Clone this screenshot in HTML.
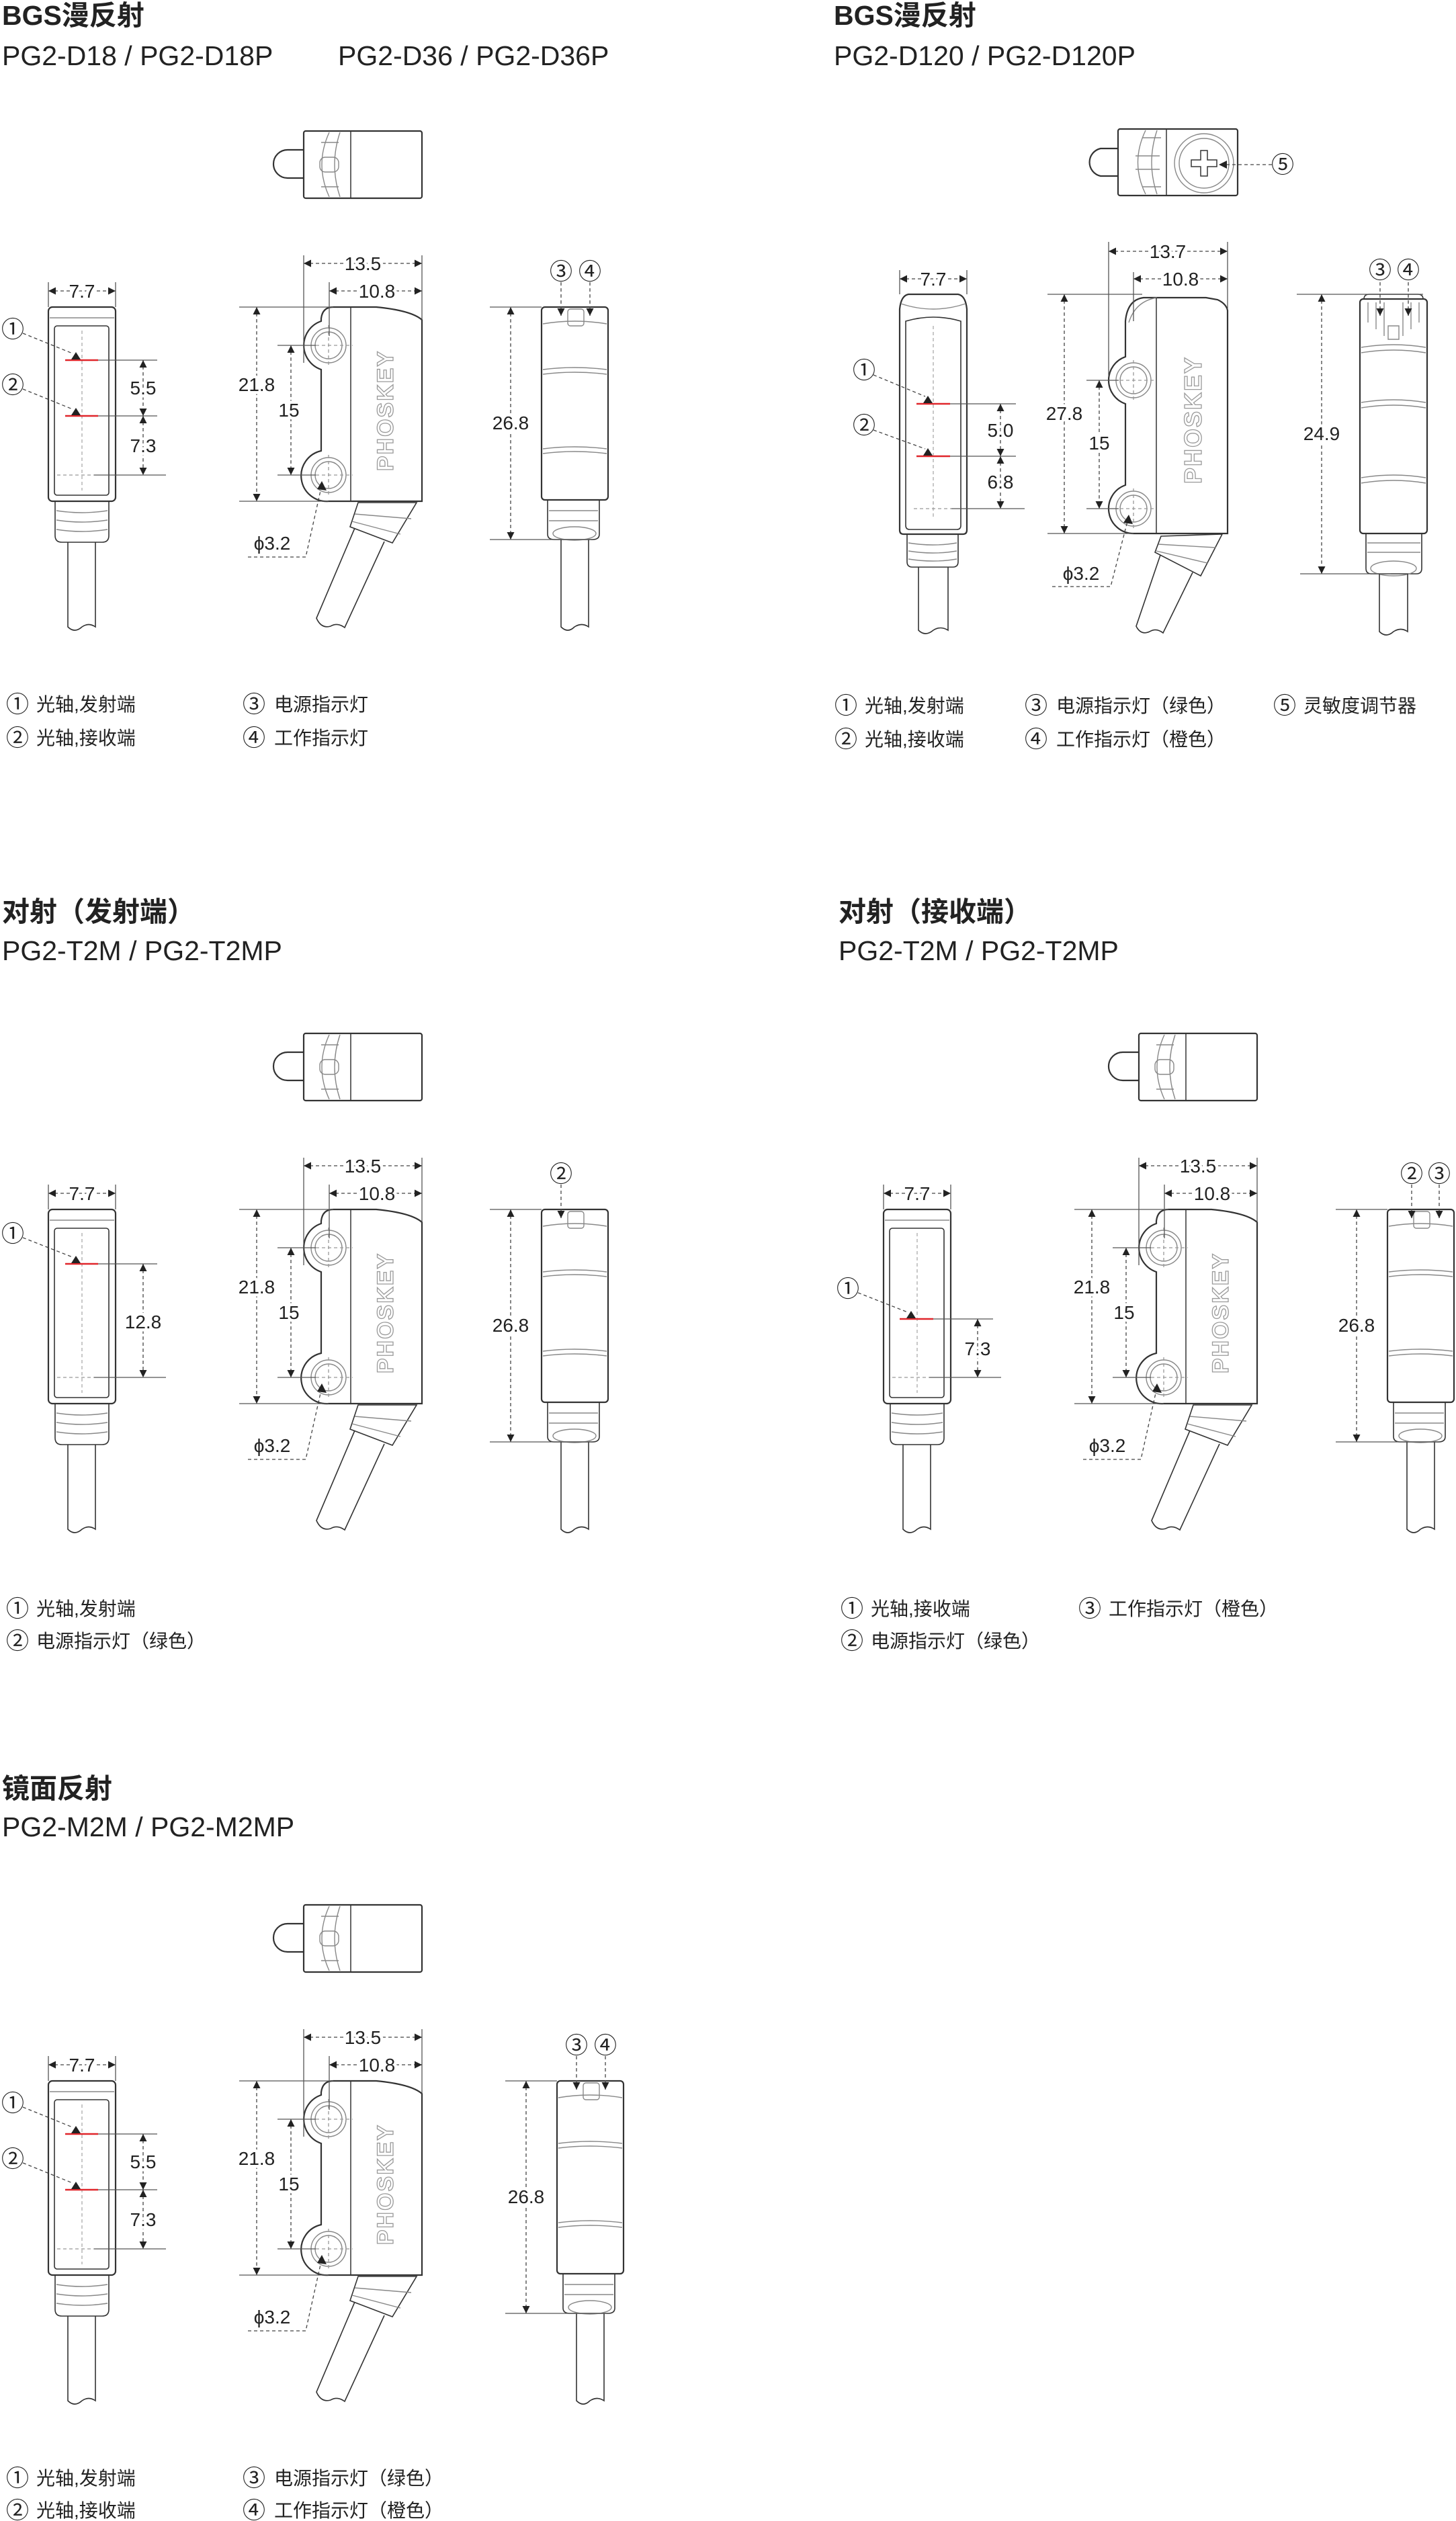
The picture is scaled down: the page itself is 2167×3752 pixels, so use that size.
<!DOCTYPE html>
<html><head><meta charset="utf-8">
<style>
html,body{margin:0;padding:0;background:#fff;}
svg{display:block;}
text{font-family:"Liberation Sans","Noto Sans CJK SC",sans-serif;fill:#222;}
.t{font-size:41px;font-weight:bold;}
.m{font-size:41px;}
.n{font-size:28px;text-anchor:middle;stroke:#fff;stroke-width:9px;paint-order:stroke;stroke-linejoin:round;}
.lg{font-size:28px;}
.c{font-size:34px;text-anchor:middle;font-family:"Noto Sans CJK SC",sans-serif;}
.b{fill:none;stroke:#333;stroke-width:2.2;}
.g{fill:none;stroke:#888;stroke-width:1.4;}
.d{fill:none;stroke:#444;stroke-width:1.3;stroke-dasharray:5 4;}
.e{fill:none;stroke:#555;stroke-width:1.3;}
.r{stroke:#e0262b;stroke-width:2.5;}
.pk{font-size:34px;font-weight:bold;fill:#fff;stroke:#9a9a9a;stroke-width:1.3;text-anchor:middle;letter-spacing:2px;}
</style></head>
<body>
<svg width="2167" height="3752" viewBox="0 0 2167 3752" xmlns="http://www.w3.org/2000/svg">
<defs>
<marker id="a" viewBox="0 0 10 10" refX="10" refY="5" markerWidth="13" markerHeight="11" markerUnits="userSpaceOnUse" orient="auto-start-reverse"><path d="M0,0 L10,5 L0,10 z" fill="#222"/></marker>

<g id="lcore">
 <path class="b" d="M452,223 H428 A21,21 0 0 0 428,265 H452"/>
 <rect class="b" x="452" y="195" width="176" height="100" rx="3"/>
 <line class="b" x1="522" y1="195" x2="522" y2="295" style="stroke-width:1.5"/>
 <path class="g" d="M490,197 Q468,245 490,293"/>
 <path class="g" d="M506,197 Q490,245 506,293"/>
 <rect class="g" x="476" y="234" width="28" height="22" rx="8"/>
 <path class="g" d="M478,212 H504 M478,278 H504"/>
 <rect class="b" x="72" y="457" width="100" height="289" rx="6"/>
 <path class="g" d="M74,473 H170"/>
 <rect class="b" x="81" y="485" width="81" height="252" rx="4" style="stroke-width:1.6"/>
 <line class="d" x1="122" y1="492" x2="122" y2="730" style="stroke:#aaa"/>
 <path class="b" d="M82,746 V797 Q82,807 92,807 H152 Q162,807 162,797 V746" style="stroke-width:1.6"/>
 <path class="g" d="M84,760 Q122,766 160,760 M84,774 Q122,780 160,774 M84,788 Q122,794 160,788"/>
 <path class="b" d="M101,807 V933 Q111,943 122,933 Q132,926 142,933 V807" style="stroke-width:1.6"/>
 <path class="b" d="M478,474 Q480,457 496,457 H560 Q612,462 628,476 V746 H489 A38,38 0 0 1 478,671 V550 A38,38 0 0 1 478,478 Z"/>
 <circle class="g" cx="489" cy="514" r="26"/><circle class="g" cx="489" cy="514" r="20"/>
 <circle class="g" cx="489" cy="707" r="26"/><circle class="g" cx="489" cy="707" r="20"/>
 <path class="d" d="M489,484 V545 M489,677 V738 M470,707 H525 M470,514 H525" style="stroke:#999"/>
 <line class="b" x1="522" y1="457" x2="522" y2="746" style="stroke-width:1.5"/>
 <text class="pk" transform="translate(585,611) rotate(-90)">PHOSKEY</text>
 <path class="b" d="M533,748 L620,748 L584,808 L521,784 Z" style="stroke-width:1.6"/>
 <path class="g" d="M528,765 L612,772 M524,776 L596,795"/>
 <path class="b" d="M528,786 L471,920 Q478,936 492,932 Q502,926 513,934 L572,806" style="stroke-width:1.6"/>
 <line class="d" x1="72" y1="433" x2="172" y2="433" marker-start="url(#a)" marker-end="url(#a)"/>
 <path class="e" d="M72,420 V457 M172,420 V457"/>
 <line class="d" x1="452" y1="392" x2="628" y2="392" marker-start="url(#a)" marker-end="url(#a)"/>
 <path class="e" d="M452,380 V540 M628,380 V476 M490,420 V500"/>
 <line class="d" x1="490" y1="433" x2="628" y2="433" marker-start="url(#a)" marker-end="url(#a)"/>
 <line class="d" x1="382" y1="457" x2="382" y2="746" marker-start="url(#a)" marker-end="url(#a)"/>
 <path class="e" d="M356,457 H496 M356,746 H489"/>
 <line class="d" x1="433" y1="514" x2="433" y2="707" marker-start="url(#a)" marker-end="url(#a)"/>
 <path class="e" d="M413,514 H470 M413,707 H470"/>
 <path class="d" d="M369,829 H455 L478,726"/>
 <path d="M479,716 L486,730 L472,728 Z" fill="#222"/>
 <path class="d" d="M85,707 H140" style="stroke:#999"/>
 <path class="e" d="M140,707 H247"/>
</g>

<g id="rview">
 <rect class="b" x="806" y="457" width="99" height="287" rx="5"/>
 <path class="g" d="M808,482 Q855,474 903,482"/>
 <rect class="g" x="845" y="460" width="24" height="25" rx="4"/>
 <path class="g" d="M808,550 Q855,544 903,550 M808,557 Q855,551 903,557 M808,668 Q855,662 903,668 M808,675 Q855,669 903,675"/>
 <path class="b" d="M815,744 V795 Q815,803 825,803 H882 Q892,803 892,795 V744" style="stroke-width:1.6"/>
 <path class="g" d="M817,760 H890 M817,775 H890"/>
 <ellipse class="g" cx="855" cy="794" rx="32" ry="10"/>
 <path class="b" d="M835,803 V933 Q845,943 855,933 Q866,926 876,933 V803" style="stroke-width:1.6"/>
 <line class="d" x1="760" y1="457" x2="760" y2="803" marker-start="url(#a)" marker-end="url(#a)"/>
 <path class="e" d="M729,457 H806 M729,803 H880"/>
</g>
</defs>

<text class="t" x="3" y="37">BGS漫反射</text>
<text class="m" x="3" y="97">PG2-D18 / PG2-D18P</text>
<text class="m" x="503" y="97">PG2-D36 / PG2-D36P</text>
<use href="#lcore"/>
<use href="#rview"/>
<text class="n" x="122" y="443">7.7</text>
<text class="n" x="540" y="402">13.5</text>
<text class="n" x="561" y="443">10.8</text>
<text class="n" x="382" y="582">21.8</text>
<text class="n" x="430" y="620">15</text>
<text class="n" x="760" y="639">26.8</text>
<text x="405" y="818" style="font-size:28px;text-anchor:middle">ϕ3.2</text>
<line class="r" x1="97" y1="536" x2="146" y2="536"/><line class="r" x1="97" y1="619" x2="146" y2="619"/>
<path class="e" d="M146,536 H234 M146,619 H234"/>
<line class="d" x1="213" y1="536" x2="213" y2="619" marker-start="url(#a)" marker-end="url(#a)"/>
<line class="d" x1="213" y1="619" x2="213" y2="707" marker-start="url(#a)" marker-end="url(#a)"/>
<text class="n" x="213" y="587">5.5</text><text class="n" x="213" y="673">7.3</text>
<text class="c" x="19" y="502">①</text><text class="c" x="19" y="585">②</text>
<path class="d" d="M34,496 L108,526 M34,579 L108,609"/>
<path d="M113,524 L120,535 L106,535 Z M113,607 L120,618 L106,618 Z" fill="#222"/>
<text class="c" x="835" y="416">③</text><text class="c" x="878" y="416">④</text>
<line class="d" x1="835" y1="420" x2="835" y2="470" marker-end="url(#a)"/>
<line class="d" x1="878" y1="420" x2="878" y2="470" marker-end="url(#a)"/>
<text class="c" x="26" y="1060">①</text><text class="lg" x="54" y="1058">光轴,发射端</text>
<text class="c" x="26" y="1110">②</text><text class="lg" x="54" y="1108">光轴,接收端</text>
<text class="c" x="378" y="1060">③</text><text class="lg" x="408" y="1058">电源指示灯</text>
<text class="c" x="378" y="1110">④</text><text class="lg" x="408" y="1108">工作指示灯</text>

<text class="t" x="1241" y="37">BGS漫反射</text>
<text class="m" x="1241" y="97">PG2-D120 / PG2-D120P</text>
<path class="b" d="M1664,221 H1638 A21,21 0 0 0 1638,262 H1664"/>
<rect class="b" x="1664" y="192" width="178" height="99" rx="3"/>
<line class="b" x1="1736" y1="192" x2="1736" y2="291" style="stroke-width:1.5"/>
<path class="g" d="M1705,194 Q1682,242 1705,289 M1722,194 Q1706,242 1722,289"/>
<path class="g" d="M1690,232 H1726 M1690,252 H1726 M1700,205 H1728 M1700,278 H1728"/>
<circle class="g" cx="1792" cy="243" r="44"/><circle class="g" cx="1792" cy="243" r="37"/>
<path class="b" d="M1787,224 H1797 V238 H1811 V248 H1797 V262 H1787 V248 H1773 V238 H1787 Z" style="stroke-width:1.5"/>
<path class="d" d="M1816,245 H1893"/><path d="M1814,245 L1826,239 L1826,251 Z" fill="#222"/>
<text class="c" x="1909" y="257">⑤</text>
<path class="b" d="M1339,460 Q1341,440 1352,438 H1426 Q1437,440 1439,460 V789 Q1439,795 1433,795 H1345 Q1339,795 1339,789 Z"/>
<path class="g" d="M1341,452 Q1389,468 1437,452"/>
<path class="b" d="M1348,478 Q1389,466 1430,478 V782 Q1430,788 1424,788 H1354 Q1348,788 1348,782 Z" style="stroke-width:1.6"/>
<line class="d" x1="1389" y1="485" x2="1389" y2="770" style="stroke:#aaa"/>
<path class="b" d="M1350,795 V836 Q1350,844 1358,844 H1418 Q1426,844 1426,836 V795" style="stroke-width:1.6"/>
<path class="g" d="M1352,808 Q1389,814 1424,808 M1352,820 Q1389,826 1424,820 M1352,832 Q1389,838 1424,832"/>
<path class="b" d="M1367,844 V938 Q1377,948 1389,938 Q1400,931 1411,938 V844" style="stroke-width:1.6"/>
<line class="r" x1="1364" y1="601" x2="1414" y2="601"/><line class="r" x1="1364" y1="679" x2="1414" y2="679"/>
<path class="e" d="M1414,601 H1512 M1414,679 H1512 M1416,757 H1525"/>
<path class="d" d="M1360,757 H1416" style="stroke:#999"/>
<line class="d" x1="1489" y1="601" x2="1489" y2="679" marker-start="url(#a)" marker-end="url(#a)"/>
<line class="d" x1="1489" y1="679" x2="1489" y2="757" marker-start="url(#a)" marker-end="url(#a)"/>
<text class="n" x="1489" y="650">5.0</text><text class="n" x="1489" y="727">6.8</text>
<text class="c" x="1286" y="563">①</text><text class="c" x="1286" y="645">②</text>
<path class="d" d="M1300,558 L1377,590 M1300,640 L1377,668"/>
<path d="M1381,589 L1388,600 L1374,600 Z M1381,667 L1388,678 L1374,678 Z" fill="#222"/>
<line class="d" x1="1339" y1="415" x2="1439" y2="415" marker-start="url(#a)" marker-end="url(#a)"/>
<path class="e" d="M1339,402 V438 M1439,402 V438"/>
<text class="n" x="1389" y="425">7.7</text>
<path class="b" d="M1675,478 Q1678,446 1702,443 H1795 L1812,446 Q1825,452 1827,462 V794 H1687 A37,37 0 0 1 1675,722 V601 A37,37 0 0 1 1675,531 Z"/>
<path class="g" d="M1680,480 Q1690,448 1722,443"/>
<circle class="g" cx="1687" cy="566" r="26"/><circle class="g" cx="1687" cy="566" r="20"/>
<circle class="g" cx="1687" cy="757" r="26"/><circle class="g" cx="1687" cy="757" r="20"/>
<path class="d" d="M1687,536 V598 M1687,727 V788 M1667,566 H1718 M1667,757 H1718" style="stroke:#999"/>
<line class="b" x1="1721" y1="443" x2="1721" y2="794" style="stroke-width:1.5"/>
<text class="pk" style="font-size:36px" transform="translate(1788,625) rotate(-90)">PHOSKEY</text>
<path class="b" d="M1728,798 L1819,795 L1787,857 L1719,822 Z" style="stroke-width:1.6"/>
<path class="g" d="M1724,810 L1810,815 M1721,820 L1797,838"/>
<path class="b" d="M1727,826 L1691,932 Q1698,946 1711,940 Q1721,934 1731,942 L1775,852" style="stroke-width:1.6"/>
<line class="d" x1="1650" y1="374" x2="1827" y2="374" marker-start="url(#a)" marker-end="url(#a)"/>
<line class="d" x1="1687" y1="415" x2="1827" y2="415" marker-start="url(#a)" marker-end="url(#a)"/>
<path class="e" d="M1650,360 V560 M1827,360 V460 M1687,405 V478"/>
<text class="n" x="1738" y="384">13.7</text><text class="n" x="1757" y="425">10.8</text>
<line class="d" x1="1584" y1="438" x2="1584" y2="794" marker-start="url(#a)" marker-end="url(#a)"/>
<path class="e" d="M1559,438 H1700 M1559,794 H1687"/>
<line class="d" x1="1636" y1="566" x2="1636" y2="757" marker-start="url(#a)" marker-end="url(#a)"/>
<path class="e" d="M1617,566 H1665 M1617,757 H1665"/>
<text class="n" x="1584" y="625">27.8</text><text class="n" x="1636" y="669">15</text>
<text x="1609" y="863" style="font-size:28px;text-anchor:middle">ϕ3.2</text>
<path class="d" d="M1566,873 H1653 L1678,776"/>
<path d="M1680,766 L1686,780 L1672,778 Z" fill="#222"/>
<rect class="b" x="2024" y="445" width="100" height="349" rx="5"/>
<path class="b" d="M2030,445 Q2030,438 2038,438 H2110 Q2118,438 2118,445" style="stroke-width:1.5"/>
<path class="g" d="M2036,450 V480 M2048,450 V490 M2060,450 V500 M2088,450 V500 M2100,450 V490 M2112,450 V480 M2066,485 H2082 V505 H2066 Z"/>
<path class="g" d="M2026,517 Q2074,509 2122,517 M2026,525 Q2074,517 2122,525 M2026,599 Q2074,591 2122,599 M2026,607 Q2074,599 2122,607 M2026,711 Q2074,703 2122,711 M2026,719 Q2074,711 2122,719"/>
<path class="b" d="M2033,794 V846 Q2033,854 2041,854 H2108 Q2116,854 2116,846 V794" style="stroke-width:1.6"/>
<path class="g" d="M2035,808 H2114 M2035,822 H2114"/>
<ellipse class="g" cx="2074" cy="846" rx="34" ry="11"/>
<path class="b" d="M2053,854 V940 Q2063,950 2074,940 Q2085,933 2095,940 V854" style="stroke-width:1.6"/>
<line class="d" x1="1967" y1="438" x2="1967" y2="854" marker-start="url(#a)" marker-end="url(#a)"/>
<path class="e" d="M1930,438 H2118 M1935,854 H2070"/>
<text class="n" x="1967" y="655">24.9</text>
<text class="c" x="2054" y="414">③</text><text class="c" x="2096" y="414">④</text>
<line class="d" x1="2054" y1="420" x2="2054" y2="470" marker-end="url(#a)"/>
<line class="d" x1="2096" y1="420" x2="2096" y2="470" marker-end="url(#a)"/>
<text class="c" x="1259" y="1062">①</text><text class="lg" x="1287" y="1060">光轴,发射端</text>
<text class="c" x="1259" y="1112">②</text><text class="lg" x="1287" y="1110">光轴,接收端</text>
<text class="c" x="1542" y="1062">③</text><text class="lg" x="1572" y="1060">电源指示灯（绿色）</text>
<text class="c" x="1542" y="1112">④</text><text class="lg" x="1572" y="1110">工作指示灯（橙色）</text>
<text class="c" x="1912" y="1062">⑤</text><text class="lg" x="1940" y="1060">灵敏度调节器</text>

<text class="t" x="3" y="1371">对射（发射端）</text>
<text class="m" x="3" y="1429">PG2-T2M / PG2-T2MP</text>
<g transform="translate(0,1343)">
 <use href="#lcore"/>
 <use href="#rview"/>
 <text class="n" x="122" y="443">7.7</text>
 <text class="n" x="540" y="402">13.5</text>
 <text class="n" x="561" y="443">10.8</text>
 <text class="n" x="382" y="582">21.8</text>
 <text class="n" x="430" y="620">15</text>
 <text class="n" x="760" y="639">26.8</text>
 <text x="405" y="818" style="font-size:28px;text-anchor:middle">ϕ3.2</text>
 <line class="r" x1="97" y1="538" x2="146" y2="538"/>
 <path class="e" d="M146,538 H234"/>
 <line class="d" x1="213" y1="538" x2="213" y2="707" marker-start="url(#a)" marker-end="url(#a)"/>
 <text class="n" x="213" y="634">12.8</text>
 <text class="c" x="19" y="505">①</text>
 <path class="d" d="M34,499 L108,528"/>
 <path d="M113,526 L120,537 L106,537 Z" fill="#222"/>
 <text class="c" x="835" y="416">②</text>
 <line class="d" x1="835" y1="420" x2="835" y2="470" marker-end="url(#a)"/>
</g>
<text class="c" x="26" y="2406">①</text><text class="lg" x="54" y="2404">光轴,发射端</text>
<text class="c" x="26" y="2454">②</text><text class="lg" x="54" y="2452">电源指示灯（绿色）</text>

<text class="t" x="1248" y="1371">对射（接收端）</text>
<text class="m" x="1248" y="1429">PG2-T2M / PG2-T2MP</text>
<g transform="translate(1243,1343)">
 <use href="#lcore"/>
 <text class="n" x="122" y="443">7.7</text>
 <text class="n" x="540" y="402">13.5</text>
 <text class="n" x="561" y="443">10.8</text>
 <text class="n" x="382" y="582">21.8</text>
 <text class="n" x="430" y="620">15</text>
 <text x="405" y="818" style="font-size:28px;text-anchor:middle">ϕ3.2</text>
 <line class="r" x1="96" y1="620" x2="146" y2="620"/>
 <path class="e" d="M146,620 H235"/>
 <line class="d" x1="212" y1="620" x2="212" y2="707" marker-start="url(#a)" marker-end="url(#a)"/>
 <text class="n" x="212" y="674">7.3</text>
 <text class="c" x="19" y="587">①</text>
 <path class="d" d="M34,581 L108,610"/>
 <path d="M113,608 L120,619 L106,619 Z" fill="#222"/>
</g>
<g transform="translate(1259,1343)">
 <use href="#rview"/>
 <text class="n" x="760" y="639">26.8</text>
 <text class="c" x="842" y="416">②</text><text class="c" x="883" y="416">③</text>
 <line class="d" x1="842" y1="420" x2="842" y2="470" marker-end="url(#a)"/>
 <line class="d" x1="883" y1="420" x2="883" y2="470" marker-end="url(#a)"/>
</g>
<text class="c" x="1268" y="2406">①</text><text class="lg" x="1296" y="2404">光轴,接收端</text>
<text class="c" x="1268" y="2454">②</text><text class="lg" x="1296" y="2452">电源指示灯（绿色）</text>
<text class="c" x="1622" y="2406">③</text><text class="lg" x="1650" y="2404">工作指示灯（橙色）</text>

<text class="t" x="3" y="2676">镜面反射</text>
<text class="m" x="3" y="2733">PG2-M2M / PG2-M2MP</text>
<g transform="translate(0,2640)">
 <use href="#lcore"/>
 <text class="n" x="122" y="443">7.7</text>
 <text class="n" x="540" y="402">13.5</text>
 <text class="n" x="561" y="443">10.8</text>
 <text class="n" x="382" y="582">21.8</text>
 <text class="n" x="430" y="620">15</text>
 <text x="405" y="818" style="font-size:28px;text-anchor:middle">ϕ3.2</text>
 <line class="r" x1="97" y1="536" x2="146" y2="536"/><line class="r" x1="97" y1="619" x2="146" y2="619"/>
 <path class="e" d="M146,536 H234 M146,619 H234"/>
 <line class="d" x1="213" y1="536" x2="213" y2="619" marker-start="url(#a)" marker-end="url(#a)"/>
 <line class="d" x1="213" y1="619" x2="213" y2="707" marker-start="url(#a)" marker-end="url(#a)"/>
 <text class="n" x="213" y="587">5.5</text><text class="n" x="213" y="673">7.3</text>
 <text class="c" x="19" y="502">①</text><text class="c" x="19" y="585">②</text>
 <path class="d" d="M34,496 L108,526 M34,579 L108,609"/>
 <path d="M113,524 L120,535 L106,535 Z M113,607 L120,618 L106,618 Z" fill="#222"/>
</g>
<g transform="translate(23,2640)">
 <use href="#rview"/>
 <text class="n" x="760" y="639">26.8</text>
 <text class="c" x="835" y="416">③</text><text class="c" x="878" y="416">④</text>
 <line class="d" x1="835" y1="420" x2="835" y2="470" marker-end="url(#a)"/>
 <line class="d" x1="878" y1="420" x2="878" y2="470" marker-end="url(#a)"/>
</g>
<text class="c" x="26" y="3700">①</text><text class="lg" x="54" y="3698">光轴,发射端</text>
<text class="c" x="26" y="3748">②</text><text class="lg" x="54" y="3746">光轴,接收端</text>
<text class="c" x="378" y="3700">③</text><text class="lg" x="408" y="3698">电源指示灯（绿色）</text>
<text class="c" x="378" y="3748">④</text><text class="lg" x="408" y="3746">工作指示灯（橙色）</text>
</svg>
</body></html>
